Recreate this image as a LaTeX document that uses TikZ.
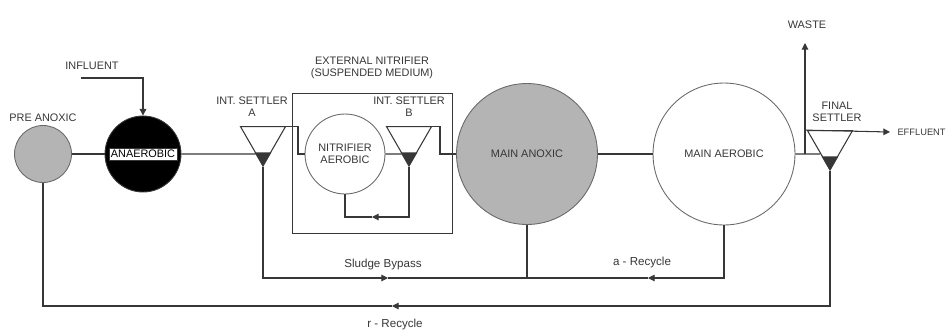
\documentclass[tikz,border=0pt]{standalone}
\usepackage{fontspec}
\setmainfont{Liberation Sans}
\usepackage{tikz}
\usetikzlibrary{arrows.meta,positioning,calc,shapes.geometric}
\definecolor{plant@line}{RGB}{55,55,55}
\definecolor{plant@edge}{RGB}{105,105,105}
\definecolor{plant@fill}{RGB}{180,180,180}
\tikzset{
  plant/.style={
    x=0.02cm, y=-0.02cm,
    line width=0.6pt,
    >={Triangle[length=3.8pt,width=3.8pt]},
    every node/.style={font=\fontsize{6.2}{6.8}\selectfont, inner sep=1pt}
  },
  tank/.style={                    % reactor basin
    circle, draw=plant@edge, line width=0.5pt,
    inner sep=0pt, align=center
  },
  settler/.style={                 % clarifier cone, apex down
    isosceles triangle, isosceles triangle stretches,
    shape border rotate=270,
    draw=plant@line, line width=0.6pt,
    inner sep=0pt,
    minimum width=0.9cm, minimum height=0.78cm,
    anchor=apex
  },
  flow/.style={draw=plant@line, line width=0.6pt},
  lbl/.style={align=center, text=plant@line},
  flowlbl/.style={font=\fontsize{6.6}{7.5}\selectfont, text=plant@line},
  tanklbl/.style={
    fill=white, draw=plant@line, line width=0.3pt,
    inner sep=1.2pt
  },
  extbox/.style={
    draw=plant@line, line width=0.5pt,
    minimum width=3.2cm, minimum height=2.8cm
  }
}
\begin{document}
\begin{tikzpicture}[plant]
\useasboundingbox (0,0) rectangle (947,329);

% basins along the main line
\node[tank, fill=plant@fill, minimum size=1.14cm] (preanox) at (43,154) {};
\node[tank, fill=black, draw=plant@line, minimum size=1.52cm] (anaer) at (143,154) {};
\node[tanklbl] (anaerlbl) at (anaer) {ANAEROBIC};
\node[tank, minimum size=1.6cm, text=plant@line] (nitr) at (345,154) {NITRIFIER\\AEROBIC};
\node[tank, fill=plant@fill, minimum size=2.82cm, text=plant@line] (anox) at (527,154) {MAIN ANOXIC};
\node[tank, minimum size=2.84cm, text=plant@line] (aerob) at (724,154) {MAIN AEROBIC};

% settlers
\node[settler] (setA) at (263,167) {};
\node[settler] (setB) at (409,167) {};
\node[settler] (fs) at (830,171) {};
\fill[plant@line] (setA.apex) -- ($(setA.apex)!0.36!(setA.left corner)$)
  -- ($(setA.apex)!0.36!(setA.right corner)$) -- cycle;
\fill[plant@line] (setB.apex) -- ($(setB.apex)!0.36!(setB.left corner)$)
  -- ($(setB.apex)!0.36!(setB.right corner)$) -- cycle;
\fill[plant@line] (fs.apex) -- ($(fs.apex)!0.36!(fs.left corner)$)
  -- ($(fs.apex)!0.36!(fs.right corner)$) -- cycle;

% external nitrifier enclosure
\node[extbox] (ext) at (372,163) {};
\node[lbl] (extlbl) at (372,68) {EXTERNAL NITRIFIER\\(SUSPENDED MEDIUM)};

% labels
\node[lbl] (preanoxlbl) at (43,118) {PRE ANOXIC};
\node[lbl] (infl) at (92,66) {INFLUENT};
\node[lbl] (setAlbl) at (252,107) {INT. SETTLER\\A};
\node[lbl] (setBlbl) at (409,107) {INT. SETTLER\\B};
\node[lbl] (fslbl) at (837,112) {FINAL\\SETTLER};
\node[lbl] (waste) at (807,25) {WASTE};
\node[lbl, anchor=west, inner sep=0pt, font=\fontsize{5.3}{6}\selectfont] (effl) at (897,132) {EFFLUENT};
\node[flowlbl] (byplbl) at (383,264) {Sludge Bypass};
\node[flowlbl] (areclbl) at (642,262) {a - Recycle};
\node[flowlbl] (rreclbl) at (395,324) {r - Recycle};

% helper points
\coordinate (inflstart) at (81,78);
\coordinate (aIn) at (intersection of setA.apex--setA.right corner and anaer.center--aerob.center);
\coordinate (bIn) at (intersection of setB.apex--setB.right corner and nitr.center--aerob.center);
\coordinate (fIn) at (intersection of fs.apex--fs.right corner and aerob.center--nitr.center);
\coordinate (jogA) at (298,154);
\coordinate (jogB) at (440,154);
\coordinate (wj) at (805,154);
\coordinate (wtop) at (805,43);
\coordinate (effend) at (890,132);
\coordinate (byp) at (388,278);
\coordinate (arec) at (648,278);
\coordinate (rrec) at (392,306);
\coordinate (nrec) at (372,217);

% forward flow
\draw[flow, ->] (inflstart) -| (anaer.north);
\draw[flow] (preanox) -- (anaer);
\draw[flow] (anaer.east) -- (aIn);
\draw[flow] (setA.left corner) -| (jogA) -- (nitr.west);
\draw[flow] (nitr.east) -- (bIn);
\draw[flow] (setB.left corner) -| (jogB) -- (anox.west);
\draw[flow] (anox) -- (aerob);
\draw[flow] (aerob.east) -- (fIn);
\draw[flow, ->] (wj) -- (wtop);
\draw[flow, ->] (wj |- fs.right corner) -- (effend);

% recycles and bypass
\draw[flow, ->] (setB.apex) |- (nrec);
\draw[flow] (nrec) -| (nitr.south);
\draw[flow, ->] (setA.apex) |- (byp);
\draw[flow] (byp) -- (anox.south |- byp);
\draw[flow] (anox.south) -- (anox.south |- byp);
\draw[flow, ->] (aerob.south) |- (arec);
\draw[flow] (arec) -- (anox.south |- arec);
\draw[flow, ->] (fs.apex) |- (rrec);
\draw[flow] (rrec) -| (preanox.south);

\end{tikzpicture}
\end{document}
